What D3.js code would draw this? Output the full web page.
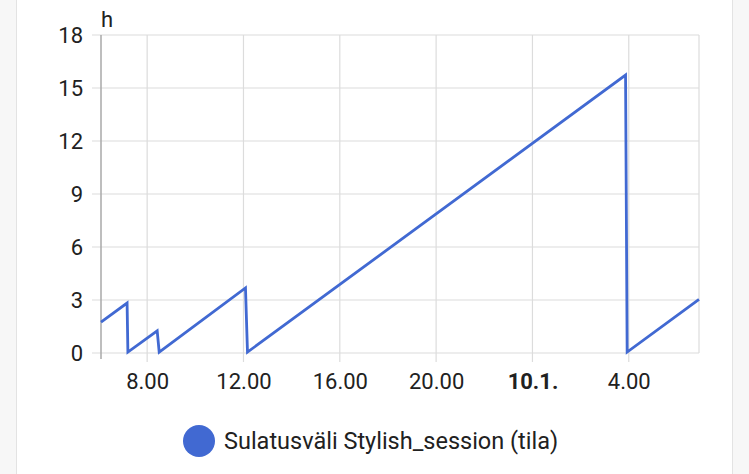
<!DOCTYPE html>
<html>
<head>
<meta charset="utf-8">
<script src="https://cdn.jsdelivr.net/npm/d3@7"></script>
<style>
  html, body { margin: 0; padding: 0; background: #fafafa; }
  body { width: 749px; height: 474px; overflow: hidden; font-family: Roboto, "Noto Sans", sans-serif; }
  .tick text { fill: #212121; }
</style>
</head>
<body>
<div id="chart"></div>
<script>
// Data (time of day, hours since last defrost)
const times = [
  "2023-01-09 06:05", "2023-01-09 07:10", "2023-01-09 07:12", "2023-01-09 08:25",
  "2023-01-09 08:30", "2023-01-09 12:05", "2023-01-09 12:10", "2023-01-10 03:52",
  "2023-01-10 03:56", "2023-01-10 06:55"
];
const values = [1.75, 2.83, 0.05, 1.25, 0.05, 3.68, 0.05, 15.73, 0.05, 3.04];
const yTicks = [0, 3, 6, 9, 12, 15, 18];
const xTicks = [
  "2023-01-09 08:00", "2023-01-09 12:00", "2023-01-09 16:00",
  "2023-01-09 20:00", "2023-01-10 00:00", "2023-01-10 04:00"
];
const seriesName = "Sulatusväli Stylish_session (tila)";
const unit = "h";

const parseDate = d3.timeParse("%Y-%m-%d %H:%M");
const data = times.map((t, i) => ({ date: parseDate(t), value: values[i] }));

const xAccessor = (d) => d.date;
const yAccessor = (d) => d.value;

// Dimensions
const dimensions = {
  width: 749,
  height: 474,
  left: 101,
  right: 699,
  top: 35,
  bottom: 353,
};

const svg = d3
  .select("#chart")
  .append("svg")
  .attr("width", dimensions.width)
  .attr("height", dimensions.height);

// Card background
svg.append("rect")
  .attr("x", 0).attr("y", 0)
  .attr("width", dimensions.width).attr("height", dimensions.height)
  .attr("fill", "#f7f7f7");
svg.append("rect")
  .attr("x", 16.5).attr("y", -2)
  .attr("width", 716).attr("height", dimensions.height + 4)
  .attr("fill", "#ffffff")
  .attr("stroke", "#e3e3e3");

// Scales
const xScale = d3
  .scaleTime()
  .domain(d3.extent(data, xAccessor))
  .range([dimensions.left, dimensions.right]);

const yScale = d3
  .scaleLinear()
  .domain([0, 18])
  .range([dimensions.bottom, dimensions.top]);

// Grid
const grid = svg.append("g");
grid.selectAll(".hgrid")
  .data(yTicks)
  .join("line")
  .attr("x1", dimensions.left - 9)
  .attr("x2", dimensions.right)
  .attr("y1", (d) => yScale(d))
  .attr("y2", (d) => yScale(d))
  .attr("stroke", "#dcdcdc")
  .attr("stroke-width", 1.2);

grid.selectAll(".vgrid")
  .data(xTicks.map(parseDate))
  .join("line")
  .attr("x1", (d) => xScale(d))
  .attr("x2", (d) => xScale(d))
  .attr("y1", dimensions.top)
  .attr("y2", dimensions.bottom + 9)
  .attr("stroke", "#dcdcdc")
  .attr("stroke-width", 1.2);

grid.append("line")
  .attr("x1", dimensions.right).attr("x2", dimensions.right)
  .attr("y1", dimensions.top).attr("y2", dimensions.bottom)
  .attr("stroke", "#dcdcdc")
  .attr("stroke-width", 1.2);

// Y axis line
svg.append("line")
  .attr("x1", dimensions.left).attr("x2", dimensions.left)
  .attr("y1", dimensions.top).attr("y2", dimensions.bottom + 6)
  .attr("stroke", "#a8a8a8")
  .attr("stroke-width", 1.5);

// Axes
const yAxis = d3.axisLeft(yScale).tickValues(yTicks).tickSize(0).tickPadding(18);
svg.append("g")
  .attr("transform", `translate(${dimensions.left},0)`)
  .call(yAxis)
  .call((g) => g.select(".domain").remove())
  .selectAll("text")
  .attr("font-family", "Roboto")
  .attr("font-size", 22);

const fmt = (d) => (d.getHours() === 0 ? d3.timeFormat("%-d.%-m.")(d) : d3.timeFormat("%-H.%M")(d));
const xAxis = d3.axisBottom(xScale).tickValues(xTicks.map(parseDate)).tickFormat(fmt).tickSize(0).tickPadding(20);
svg.append("g")
  .attr("transform", `translate(0,${dimensions.bottom})`)
  .call(xAxis)
  .call((g) => g.select(".domain").remove())
  .selectAll("text")
  .attr("font-family", "Roboto")
  .attr("font-size", 22)
  .attr("font-weight", (d) => (d.getHours() === 0 ? "bold" : "normal"));

// Unit label
svg.append("text")
  .attr("x", dimensions.left)
  .attr("y", 27)
  .attr("font-family", "Roboto")
  .attr("font-size", 22)
  .attr("fill", "#212121")
  .text(unit);

// Line
const line = d3.line().x((d) => xScale(xAccessor(d))).y((d) => yScale(yAccessor(d)));
svg.append("path")
  .datum(data)
  .attr("d", line)
  .attr("fill", "none")
  .attr("stroke", "#4169d2")
  .attr("stroke-width", 2.8)
  .attr("stroke-linejoin", "miter");

// Legend
const legend = svg.append("g").attr("transform", "translate(199,441)");
legend.append("circle").attr("r", 16).attr("fill", "#4169d2");
legend.append("text")
  .attr("x", 25)
  .attr("y", 8)
  .attr("font-family", "Roboto")
  .attr("font-size", 23.5)
  .attr("fill", "#212121")
  .text(seriesName);
</script>
</body>
</html>
